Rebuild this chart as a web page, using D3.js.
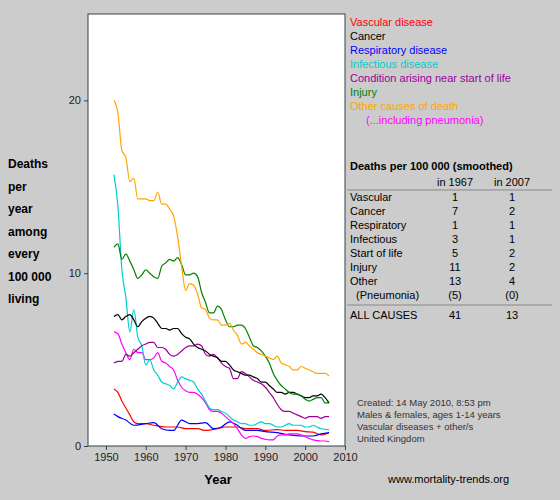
<!DOCTYPE html>
<html><head><meta charset="utf-8">
<script src="https://cdn.jsdelivr.net/npm/d3@7"></script>
<style>
body{margin:0;background:#cccccc;font-family:"Liberation Sans",Arial,sans-serif;}
svg text{font-family:"Liberation Sans",Arial,sans-serif;}
</style></head><body>
<svg id="chart" width="560" height="500"></svg>
<script>
// yearly series 1952..2006
const years = d3.range(1952, 2007);
const other = [20,19.3,17.1,16.7,15.3,15.5,14.3,14.3,14.3,14.2,14.2,14.7,14.0,14.0,13.7,13.3,12.1,10.4,9.0,9.4,9.3,8.8,8.0,7.9,7.4,7.3,7.3,7.0,7.0,7.1,6.7,6.4,5.9,6.0,5.8,5.6,5.4,5.3,5.2,5.1,5.0,5.2,4.8,4.7,4.6,4.4,4.4,4.6,4.5,4.4,4.3,4.2,4.2,4.2,4.05];
const infectious = [15.7,13.9,10.2,8.6,6.6,7.9,6.3,5.8,4.7,5.0,4.4,4.1,3.7,3.6,3.5,3.3,3.7,4.0,3.9,3.8,3.7,3.3,3.0,2.6,2.2,2.1,2.1,2.0,1.9,1.7,1.5,1.4,1.3,1.3,1.2,1.2,1.3,1.4,1.3,1.3,1.2,1.1,1.1,1.2,1.3,1.2,1.2,1.2,1.1,1.1,1.2,1.1,1.0,0.97,0.93];
const injury = [11.5,11.7,10.8,11.1,10.7,10.2,9.7,9.9,10.2,10.0,9.8,9.7,10.4,10.6,10.8,10.7,10.9,10.5,9.9,9.9,10.0,9.8,8.9,8.3,7.7,7.7,8.1,7.9,7.3,6.9,6.9,7.0,7.0,6.8,6.3,5.8,5.7,5.5,5.2,4.8,4.2,3.8,3.5,3.3,3.1,3.0,3.0,2.9,2.7,2.6,2.7,2.8,2.8,2.5,2.5];
const cancer = [7.5,7.6,7.3,7.5,7.6,7.3,6.9,7.2,7.4,7.5,7.4,7.1,6.8,6.8,6.7,6.8,6.8,6.5,6.3,6.2,5.9,5.7,5.6,5.5,5.3,5.2,5.1,4.9,4.9,4.7,4.4,4.3,4.2,4.1,4.1,4.0,3.9,3.7,3.7,3.5,3.3,3.1,3.1,3.0,3.1,3.1,3.0,2.9,2.8,2.8,2.9,2.9,3.0,2.8,2.5];
const startOfLife = [4.8,4.9,4.9,5.3,5.2,5.4,5.6,5.8,5.9,6.0,6.0,5.7,5.7,5.6,5.3,5.2,5.3,5.5,5.7,5.8,5.8,5.9,5.8,5.3,5.2,5.3,5.1,4.8,4.6,4.5,3.9,3.9,4.3,4.2,4.0,3.8,3.7,3.6,3.4,3.1,2.8,2.4,2.1,2.0,2.0,1.9,1.8,1.7,1.6,1.7,1.7,1.7,1.6,1.7,1.7];
const pneumonia = [6.6,6.5,5.9,5.4,5.0,5.6,5.4,5.4,5.0,5.0,5.1,5.4,4.9,4.8,4.6,4.4,3.8,3.4,3.2,3.1,3.1,3.0,2.8,2.5,2.1,2.0,2.0,1.9,1.7,1.5,1.3,1.0,0.64,0.44,0.54,0.58,0.54,0.44,0.39,0.35,0.35,0.58,0.64,0.64,0.7,0.7,0.7,0.64,0.54,0.44,0.35,0.31,0.29,0.29,0.25];
// sparser series
const vascularYears = [1952,1953,1954,1955,1956,1957,1958,1960,1962,1965,1968,1970,1973,1975,1978,1980,1983,1985,1988,1990,1993,1995,1998,2000,2002,2004,2006];
const vascular = [3.3,3.1,2.6,2.2,1.8,1.4,1.3,1.3,1.2,1.1,1.1,1.0,1.0,0.9,1.0,1.1,1.1,1.0,1.0,0.9,0.95,0.9,0.9,0.83,0.8,0.64,0.77];
const respiratoryYears = [1952,1953,1955,1957,1960,1962,1964,1966,1967,1969,1971,1973,1975,1977,1979,1981,1983,1985,1988,1990,1993,1996,1999,2002,2004,2006];
const respiratory = [1.85,1.7,1.5,1.2,1.3,1.35,1.0,0.9,0.9,1.5,1.3,1.3,1.35,1.0,1.1,1.4,1.2,0.9,0.9,0.83,0.77,0.64,0.58,0.58,0.7,0.77];

const legendNames = ["Vascular disease","Cancer","Respiratory disease","Infectious disease","Condition arising near start of life","Injury","Other causes of death","(...including pneumonia)"];
const legendColors = ["#ff0000","#000000","#0000ff","#00cccc","#990099","#008000","#ffa500","#ff00ff"];
const yLabel = ["Deaths","per","year","among","every","100 000","living"];
const tableRows = ["Vascular","Cancer","Respiratory","Infectious","Start of life","Injury","Other","  (Pneumonia)"];
const in1967 = ["1","7","1","3","5","11","13","(5)"];
const in2007 = ["1","2","1","1","2","2","4","(0)"];
const notes = ["Created: 14 May 2010, 8:53 pm","Males & females, ages 1-14 years","Vascular diseases + other/s","United Kingdom"];

const svg = d3.select("#chart");
const x = d3.scaleLinear().domain([1945.5, 2010]).range([88, 345]);
const y = d3.scaleLinear().domain([0, 25]).range([446, 14]);

svg.append("rect").attr("x", 88).attr("y", 14).attr("width", 257).attr("height", 432)
  .attr("fill", "#fff").attr("stroke", "#334444");

const series = [
  {xs: vascularYears, v: vascular, c: legendColors[0]},
  {xs: respiratoryYears, v: respiratory, c: legendColors[2]},
  {xs: years, v: pneumonia, c: legendColors[7]},
  {xs: years, v: infectious, c: legendColors[3]},
  {xs: years, v: startOfLife, c: legendColors[4]},
  {xs: years, v: cancer, c: legendColors[1]},
  {xs: years, v: injury, c: legendColors[5]},
  {xs: years, v: other, c: legendColors[6]}
];
const line = d3.line().curve(d3.curveMonotoneX);
series.forEach(s => {
  svg.append("path").attr("fill", "none").attr("stroke", s.c).attr("stroke-width", 1.2)
    .attr("d", line(s.xs.map((yr, i) => [x(yr), y(s.v[i])])));
});

const xAxis = svg.append("g").attr("transform", "translate(0,446)")
  .call(d3.axisBottom(x).tickValues(d3.range(1950, 2011, 10)).tickFormat(d3.format("d")).tickSize(4));
const yAxis = svg.append("g").attr("transform", "translate(88,0)")
  .call(d3.axisLeft(y).tickValues([0, 10, 20]).tickSize(4));
[xAxis, yAxis].forEach(a => {
  a.select(".domain").remove();
  a.selectAll("line").attr("stroke", "#334444");
  a.selectAll("text").attr("font-size", 11).attr("fill", "#222");
});

svg.append("text").attr("x", 218).attr("y", 484).attr("text-anchor", "middle")
  .attr("font-size", 13).attr("font-weight", "bold").text("Year");
svg.selectAll(".ylab").data(yLabel).join("text")
  .attr("x", 8).attr("y", (d, i) => 168 + i * 22.5)
  .attr("font-size", 12).attr("font-weight", "bold").text(d => d);

svg.selectAll(".leg").data(legendNames).join("text")
  .attr("x", (d, i) => i === 7 ? 366 : 350).attr("y", (d, i) => 26 + i * 14)
  .attr("font-size", 11).attr("fill", (d, i) => legendColors[i]).text(d => d);

svg.append("text").attr("x", 350).attr("y", 170).attr("font-size", 11)
  .attr("font-weight", "bold").text("Deaths per 100 000 (smoothed)");
svg.append("text").attr("x", 455).attr("y", 186).attr("font-size", 11).attr("text-anchor", "middle").text("in 1967");
svg.append("text").attr("x", 512).attr("y", 186).attr("font-size", 11).attr("text-anchor", "middle").text("in 2007");
[190, 305].forEach(ly => svg.append("line").attr("x1", 347).attr("x2", 552)
  .attr("y1", ly).attr("y2", ly).attr("stroke", "#888"));
tableRows.forEach((r, i) => {
  const ty = 201 + i * 14;
  svg.append("text").attr("x", 350).attr("y", ty).attr("font-size", 11)
    .attr("xml:space", "preserve").text(r);
  svg.append("text").attr("x", 455).attr("y", ty).attr("font-size", 11).attr("text-anchor", "middle").text(in1967[i]);
  svg.append("text").attr("x", 512).attr("y", ty).attr("font-size", 11).attr("text-anchor", "middle").text(in2007[i]);
});
svg.append("text").attr("x", 350).attr("y", 319).attr("font-size", 11).text("ALL CAUSES");
svg.append("text").attr("x", 455).attr("y", 319).attr("font-size", 11).attr("text-anchor", "middle").text("41");
svg.append("text").attr("x", 512).attr("y", 319).attr("font-size", 11).attr("text-anchor", "middle").text("13");

svg.selectAll(".note").data(notes).join("text")
  .attr("x", 357).attr("y", (d, i) => 406 + i * 12)
  .attr("font-size", 9.5).attr("fill", "#333").text(d => d);
svg.append("text").attr("x", 388).attr("y", 483).attr("font-size", 11).text("www.mortality-trends.org");
</script>
</body></html>
